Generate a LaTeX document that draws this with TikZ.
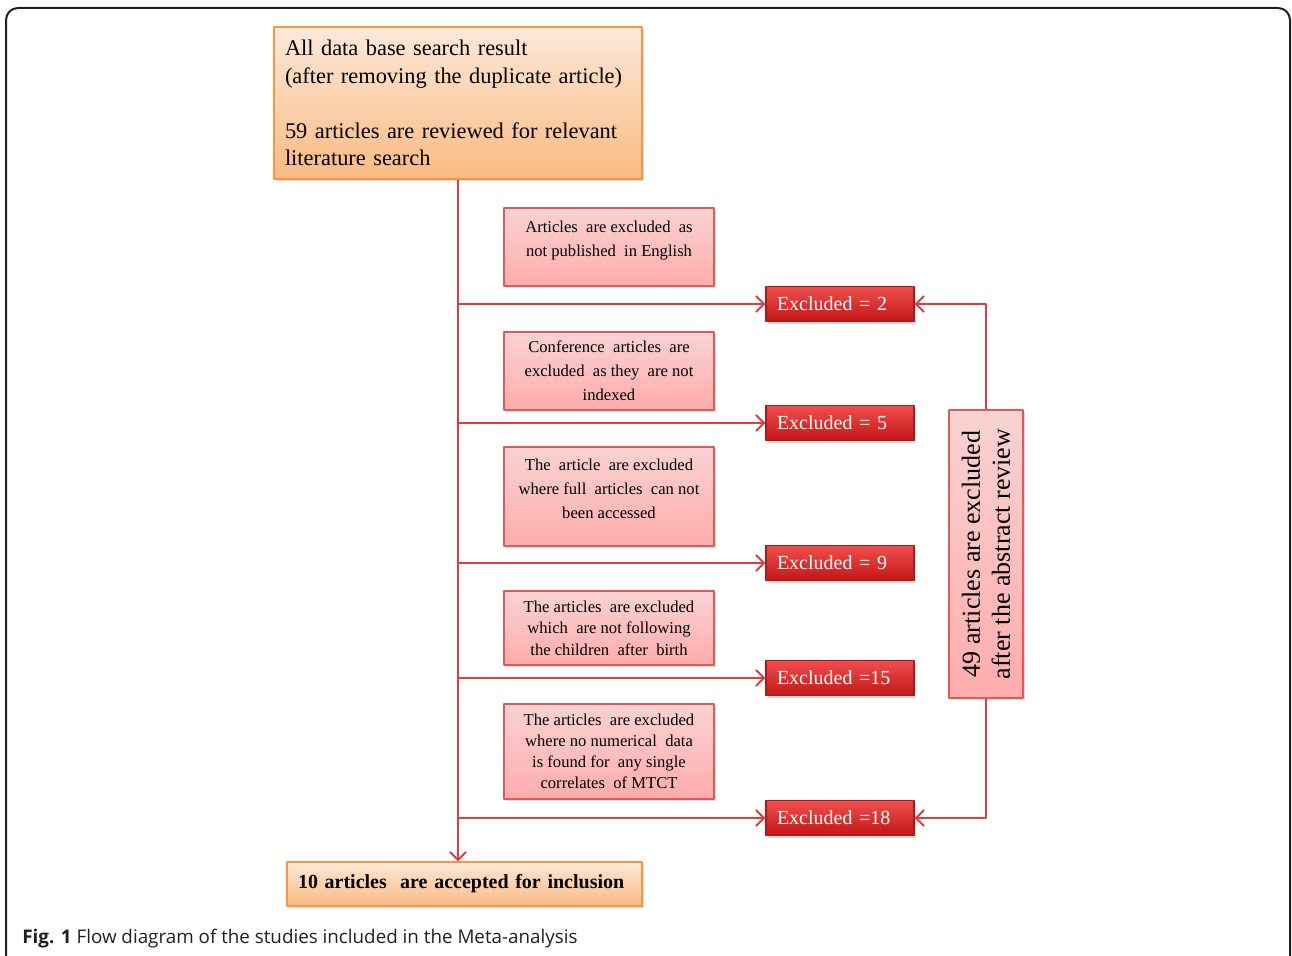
\documentclass[tikz,border=0pt]{standalone}
\usepackage{fontspec}
\setmainfont{Liberation Serif}
\newfontfamily\capfont{Open Sans}
\usetikzlibrary{arrows.meta,shadows}
\definecolor{linered}{RGB}{222,62,62}
\definecolor{orangeline}{RGB}{247,150,70}
\definecolor{peachtop}{RGB}{253,233,217}
\definecolor{peachbot}{RGB}{250,186,130}
\definecolor{pinkline}{RGB}{220,92,92}
\definecolor{pinktop}{RGB}{249,210,210}
\definecolor{pinkbot}{RGB}{255,172,172}
\definecolor{redtop}{RGB}{240,78,78}
\definecolor{redbot}{RGB}{196,22,22}
\definecolor{redline}{RGB}{165,28,28}
\definecolor{capgray}{RGB}{35,31,32}
\begin{document}
\begin{tikzpicture}[x=0.5pt,y=-0.5pt,>={Straight Barb[length=4pt,width=8pt]},line join=round,
  boxshadow/.style={drop shadow={opacity=0.3,shadow xshift=1pt,shadow yshift=-1.2pt}},
  orangebox/.style={draw=orangeline,line width=0.6pt,top color=peachtop,bottom color=peachbot,boxshadow,inner xsep=5.5pt,align=left},
  pinkbox/.style={draw=pinkline,line width=0.6pt,top color=pinktop,bottom color=pinkbot,boxshadow,minimum width=105pt,align=center,font=\fontsize{8.3}{12}\selectfont},
  redbox/.style={draw=redline,line width=0.6pt,top color=redtop,bottom color=redbot,boxshadow,text=white,inner xsep=5.5pt,text width=63pt,align=left,minimum height=17.5pt,font=\fontsize{10}{12}\selectfont},
  flow/.style={draw=linered,line width=1pt,->}]
\useasboundingbox (0,0) rectangle (1292,956);
% outer frame, open at the bottom
\draw[capgray,line width=1pt,rounded corners=6pt] (6,970)--(6,8)--(1290,8)--(1290,970);

% main column
\node[orangebox,text width=173pt,minimum height=76pt,font=\fontsize{11.2}{13.75}\selectfont] (search) at (458,103)
  {All data base search result\\(after removing the duplicate article)\\[13.75pt]59 articles are reviewed for relevant\\literature search};
\node[orangebox,text width=166.5pt,minimum height=22pt,font=\bfseries\fontsize{10}{12}\selectfont] (accept) at (464.5,884)
  {10 articles\ \ are accepted for inclusion};

% reasons
\node[pinkbox,minimum height=39pt,text depth=8pt] (why1) at (609,247) {Articles\ \ are excluded\ \ as\\not published\ \ in English};
\node[pinkbox,minimum height=39pt] (why2) at (609,371) {Conference\ \ articles\ \ are\\excluded\ \ as they\ \ are not\\indexed};
\node[pinkbox,minimum height=49.5pt,text depth=8pt] (why3) at (609,496.5) {The\ \ article\ \ are excluded\\where full\ \ articles\ \ can not\\been accessed};
\node[pinkbox,minimum height=37pt,font=\fontsize{8.3}{10.7}\selectfont] (why4) at (609,628) {The articles\ \ are excluded\\which\ \ are not following\\the children\ \ after\ \ birth};
\node[pinkbox,minimum height=47.5pt,font=\fontsize{8.3}{10.5}\selectfont] (why5) at (609,751.5) {The articles\ \ are excluded\\where no numerical\ \ data\\is found for\ \ any single\\correlates\ \ of MTCT};

% counts
\node[redbox] (ex1) at (840,304) {Excluded = 2};
\node[redbox] (ex2) at (840,423) {Excluded = 5};
\node[redbox] (ex3) at (840,563) {Excluded = 9};
\node[redbox] (ex4) at (840,678) {Excluded =15};
\node[redbox] (ex5) at (840,818) {Excluded =18};

% total
\node[pinkbox,rotate=90,minimum width=144pt,minimum height=37pt,font=\fontsize{13}{15}\selectfont] (sum) at (986,554)
  {49 articles are excluded\\after the abstract review};

% connectors
\draw[flow] (search.south) -- (search.south |- accept.north);
\foreach \n in {1,...,5}
  \draw[flow] (search.south |- ex\n.west) -- (ex\n.west);
\draw[flow] (sum.east) |- (ex1.east);
\draw[flow] (sum.west) |- (ex5.east);

% caption
\node[anchor=base west,inner sep=0pt,text=capgray,font=\capfont\fontsize{9.4}{11}\selectfont] (cap) at (22,944)
  {\textbf{Fig. 1}\ Flow diagram of the studies included in the Meta-analysis};
\end{tikzpicture}
\end{document}
